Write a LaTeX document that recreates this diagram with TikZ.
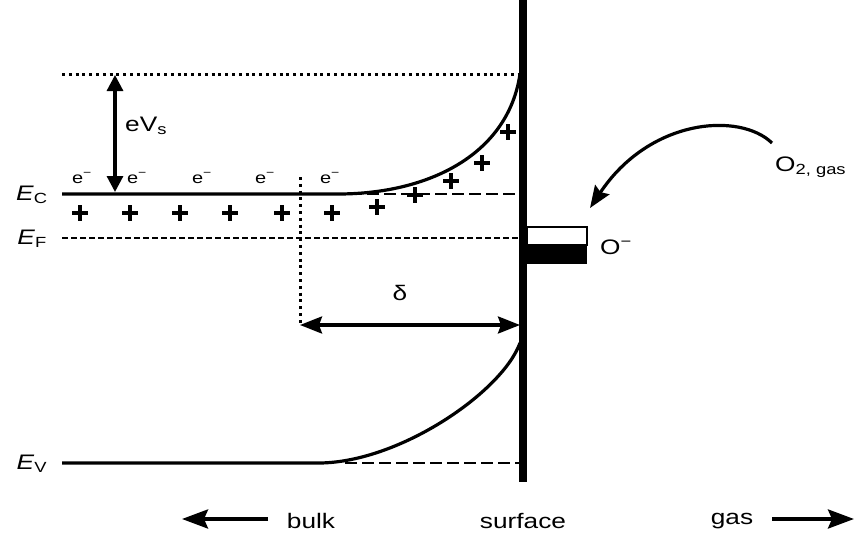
\documentclass[tikz,border=0pt]{standalone}
\usepackage{fontspec}
\setmainfont[FakeStretch=1.25]{Liberation Sans}
\usetikzlibrary{arrows.meta}
\tikzset{
  lbl/.style={font=\fontsize{21}{25}\selectfont, inner sep=0pt},
  elbl/.style={font=\fontsize{16}{19}\selectfont, inner sep=0pt},
  band/.style={line width=3.2pt},
  dotl/.style={line width=3pt, dash pattern=on 3pt off 3.8pt},
  dashl/.style={line width=2.8pt, dash pattern=on 6pt off 3pt},
  longdash/.style={line width=2.8pt, dash pattern=on 12pt off 5pt},
  surf/.style={line width=8pt},
  plusmark/.style={line width=4.4pt},
  dblarr/.style={line width=3.2pt, {Triangle[length=16pt,width=16pt]}-{Triangle[length=16pt,width=16pt]}},
  dblarrB/.style={line width=3.2pt, {Stealth[length=22pt,width=17pt,inset=3pt]}-{Stealth[length=22pt,width=17pt,inset=3pt]}},
  bigarr/.style={line width=3.6pt, -{Stealth[length=26pt,width=19pt,inset=4pt]}},
  curvarr/.style={line width=3.2pt, -{Stealth[length=22pt,width=17pt,inset=3pt]}}
}
\newcommand{\plusat}[2]{\draw[plusmark] (#1-8,#2) -- (#1+8,#2) (#1,#2-8) -- (#1,#2+8);}
\begin{document}
\begin{tikzpicture}[x=1pt,y=-1pt]
\useasboundingbox (0,0) rectangle (857,538);

% coordinates
\coordinate (surfTop) at (523,0);
\coordinate (surfBot) at (523,482);
\coordinate (topL) at (62,74);
\coordinate (topR) at (520,74);
\coordinate (ecL) at (62,194);
\coordinate (ecB) at (338,194);
\coordinate (ecD) at (350,194);
\coordinate (ecR) at (520,194);
\coordinate (efL) at (62,238);
\coordinate (efR) at (520,238);
\coordinate (evL) at (62,463);
\coordinate (evB) at (320,463);
\coordinate (evD) at (345,463);
\coordinate (evR) at (520,463);
\coordinate (evTop) at (520,343);
\coordinate (vdTop) at (300,177);
\coordinate (vdBot) at (300,325);
\coordinate (dR) at (520,325);
\coordinate (esTop) at (115,75);
\coordinate (esBot) at (115,192);

% surface
\draw[surf] (surfTop) -- (surfBot);

% levels
\draw[dotl] (topL) -- (topR);
\draw[band] (ecL) -- (ecB) .. controls (428,194) and (508,155) .. (topR);
\draw[longdash] (ecD) -- (ecR);
\draw[dashl] (efL) -- (efR);
\draw[band] (evL) -- (evB) .. controls (400,462) and (502,392) .. (evTop);
\draw[longdash] (evD) -- (evR);
\draw[dotl] (vdTop) -- (vdBot);

% arrows
\draw[dblarr] (esTop) -- (esBot);
\draw[dblarrB] (vdBot) -- (dR);

% labels
\node[lbl] (EC) at (32,195) {\textit{E}\textsubscript{C}};
\node[lbl] (EF) at (32,239) {\textit{E}\textsubscript{F}};
\node[lbl] (EV) at (32,464) {\textit{E}\textsubscript{V}};
\node[lbl, anchor=west] (eVs) at (125,126) {eV\textsubscript{s}};
\node[lbl] (delta) at (400,293) {δ};
\node[elbl] (e1) at (82,178) {e\textsuperscript{−}};
\node[elbl] (e2) at (137,178) {e\textsuperscript{−}};
\node[elbl] (e3) at (202,178) {e\textsuperscript{−}};
\node[elbl] (e4) at (265,178) {e\textsuperscript{−}};
\node[elbl] (e5) at (330,178) {e\textsuperscript{−}};

% plus signs
\plusat{80}{213}
\plusat{130}{213}
\plusat{180}{213}
\plusat{230}{213}
\plusat{282}{213}
\plusat{332}{213}
\plusat{377}{207}
\plusat{415}{195}
\plusat{451}{181}
\plusat{482}{163}
\plusat{508}{132}

% O- boxes
\draw[line width=1.6pt, fill=white] (527,227) rectangle (587,245);
\fill (527,245) rectangle (587,264);
\node[lbl, anchor=west] (Om) at (600,247) {O\textsuperscript{−}};
\node[lbl, anchor=west] (O2) at (775,167) {O\textsubscript{2, gas}};
\coordinate (o2s) at (772,143);
\coordinate (o2e) at (590,208);
\draw[curvarr] (o2s) .. controls (740,112) and (650,118) .. (o2e);

% bottom
\node[lbl] (bulk) at (311,521) {bulk};
\node[lbl] (surface) at (523,521) {surface};
\node[lbl] (gas) at (732,521) {gas};
\coordinate (bulkA) at (268,519);
\coordinate (bulkB) at (182,519);
\coordinate (gasA) at (772,519);
\coordinate (gasB) at (854,519);
\draw[bigarr] (bulkA) -- (bulkB);
\draw[bigarr] (gasA) -- (gasB);
\end{tikzpicture}
\end{document}
